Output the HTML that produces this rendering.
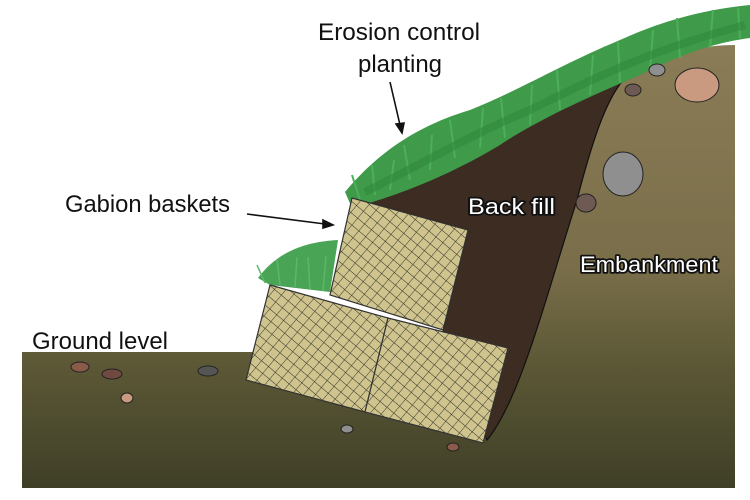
<!DOCTYPE html>
<html><head><meta charset="utf-8"><style>
html,body{margin:0;padding:0;background:#fff;width:750px;height:500px;overflow:hidden}
svg{display:block}
text{font-family:"Liberation Sans",sans-serif}
.o{fill:#fff;stroke:#111;stroke-width:3.5;paint-order:stroke;stroke-linejoin:round}
</style></head><body>
<svg width="750" height="500" viewBox="0 0 750 500">
<defs>
<linearGradient id="emb" gradientUnits="userSpaceOnUse" x1="0" y1="45" x2="0" y2="488">
<stop offset="0" stop-color="#8a7c56"/><stop offset="0.5" stop-color="#7a6e4a"/><stop offset="0.72" stop-color="#5c5836"/><stop offset="1" stop-color="#3f3f27"/>
</linearGradient>
<pattern id="mesh" width="9" height="9" patternUnits="userSpaceOnUse" patternTransform="rotate(40)">
<rect width="9" height="9" fill="#cfc48e"/>
<path d="M0 0V9M0 0H9" stroke="#2a2a22" stroke-width="0.9"/>
</pattern>
</defs>
<!-- ground + embankment -->
<path d="M22 352 H260 L480 430 L487 440 C520 400 545 300 577 200 C595 130 610 90 630 73 C660 55 700 45 735 45 V488 H22 Z" fill="url(#emb)"/>
<!-- backfill -->
<path d="M352 198 C420 175 520 120 630 73 C610 90 595 130 577 200 C545 300 520 400 487 440 L443 330 L468 230 Z" fill="#3d2c22" stroke="#111" stroke-width="1.2"/>
<!-- grass top -->
<path d="M345 192 C380 150 420 125 470 110 C520 90 560 65 620 40 C660 22 700 10 750 5 V38 C720 42 690 50 640 75 C600 92 540 118 500 145 C450 175 400 195 352 208 Z" fill="#3f9a4a"/>
<g stroke="#4caf5a" stroke-width="2" fill="none">
<path d="M360 200 l-8 -25 M375 195 l-3 -30 M390 190 l4 -30 M410 180 l-6 -35 M430 170 l2 -35 M455 158 l-5 -38 M480 148 l3 -40 M505 138 l-4 -40 M530 125 l2 -40 M560 110 l-3 -40 M590 95 l3 -40 M620 82 l-2 -40 M650 70 l3 -40 M680 58 l-3 -40 M710 48 l3 -38 M740 38 l-2 -30"/>
</g>
<path d="M365 192 C420 165 470 135 530 110 C590 80 650 50 745 25" stroke="#2f8a3c" stroke-width="8" fill="none" opacity="0.6"/>
<path d="M258 278 C275 255 300 242 338 240 L330 292 L270 285 Z" fill="#4aa456"/>
<g stroke="#5cb868" stroke-width="1.5" fill="none"><path d="M265 283 l-8 -18 M280 285 l-3 -25 M295 287 l2 -30 M310 289 l-2 -32 M323 291 l3 -35"/></g>
<!-- rocks -->
<ellipse cx="697" cy="85" rx="22" ry="17" fill="#c99a80" stroke="#222"/>
<ellipse cx="623" cy="174" rx="20" ry="22" fill="#8f8f90" stroke="#222"/>
<ellipse cx="586" cy="203" rx="10" ry="9" fill="#6e5a52" stroke="#222"/>
<ellipse cx="633" cy="90" rx="8" ry="6" fill="#6e5a52" stroke="#222"/>
<ellipse cx="657" cy="70" rx="8" ry="6" fill="#8f8f90" stroke="#222"/>
<ellipse cx="80" cy="367" rx="9" ry="5" fill="#8a5a4a" stroke="#222"/>
<ellipse cx="112" cy="374" rx="10" ry="5" fill="#6e4a40" stroke="#222"/>
<ellipse cx="208" cy="371" rx="10" ry="5" fill="#555" stroke="#222"/>
<ellipse cx="127" cy="398" rx="6" ry="5" fill="#c99a80" stroke="#222"/>
<ellipse cx="347" cy="429" rx="6" ry="4" fill="#8f8f90" stroke="#222"/>
<ellipse cx="453" cy="447" rx="6" ry="4" fill="#8a5a4a" stroke="#222"/>
<!-- gabions -->
<g stroke="#333" stroke-width="1.2">
<polygon points="352,198 468,230 443,330 330,295" fill="url(#mesh)"/>
<polygon points="270,285 388,318 365,412 246,380" fill="url(#mesh)"/>
<polygon points="388,318 508,348 483,443 365,412" fill="url(#mesh)"/>
</g>
<!-- labels -->
<g font-size="24" fill="#111">
<text x="318" y="40" textLength="162" lengthAdjust="spacingAndGlyphs">Erosion control</text>
<text x="358" y="72" textLength="84" lengthAdjust="spacingAndGlyphs">planting</text>
<text x="65" y="212" textLength="165" lengthAdjust="spacingAndGlyphs">Gabion baskets</text>
<text x="32" y="349" textLength="136" lengthAdjust="spacingAndGlyphs">Ground level</text>
</g>
<text x="468" y="214" font-size="22" class="o" textLength="87" lengthAdjust="spacingAndGlyphs">Back fill</text>
<text x="580" y="272" font-size="22" class="o" textLength="138" lengthAdjust="spacingAndGlyphs">Embankment</text>
<g stroke="#111" stroke-width="1.6" fill="#111">
<line x1="390" y1="82" x2="400" y2="125"/><polygon points="396,124 404,123 402,133"/>
<line x1="247" y1="214" x2="325" y2="224"/><polygon points="323,220 323,228 333,225"/>
</g>
</svg>
</body></html>
